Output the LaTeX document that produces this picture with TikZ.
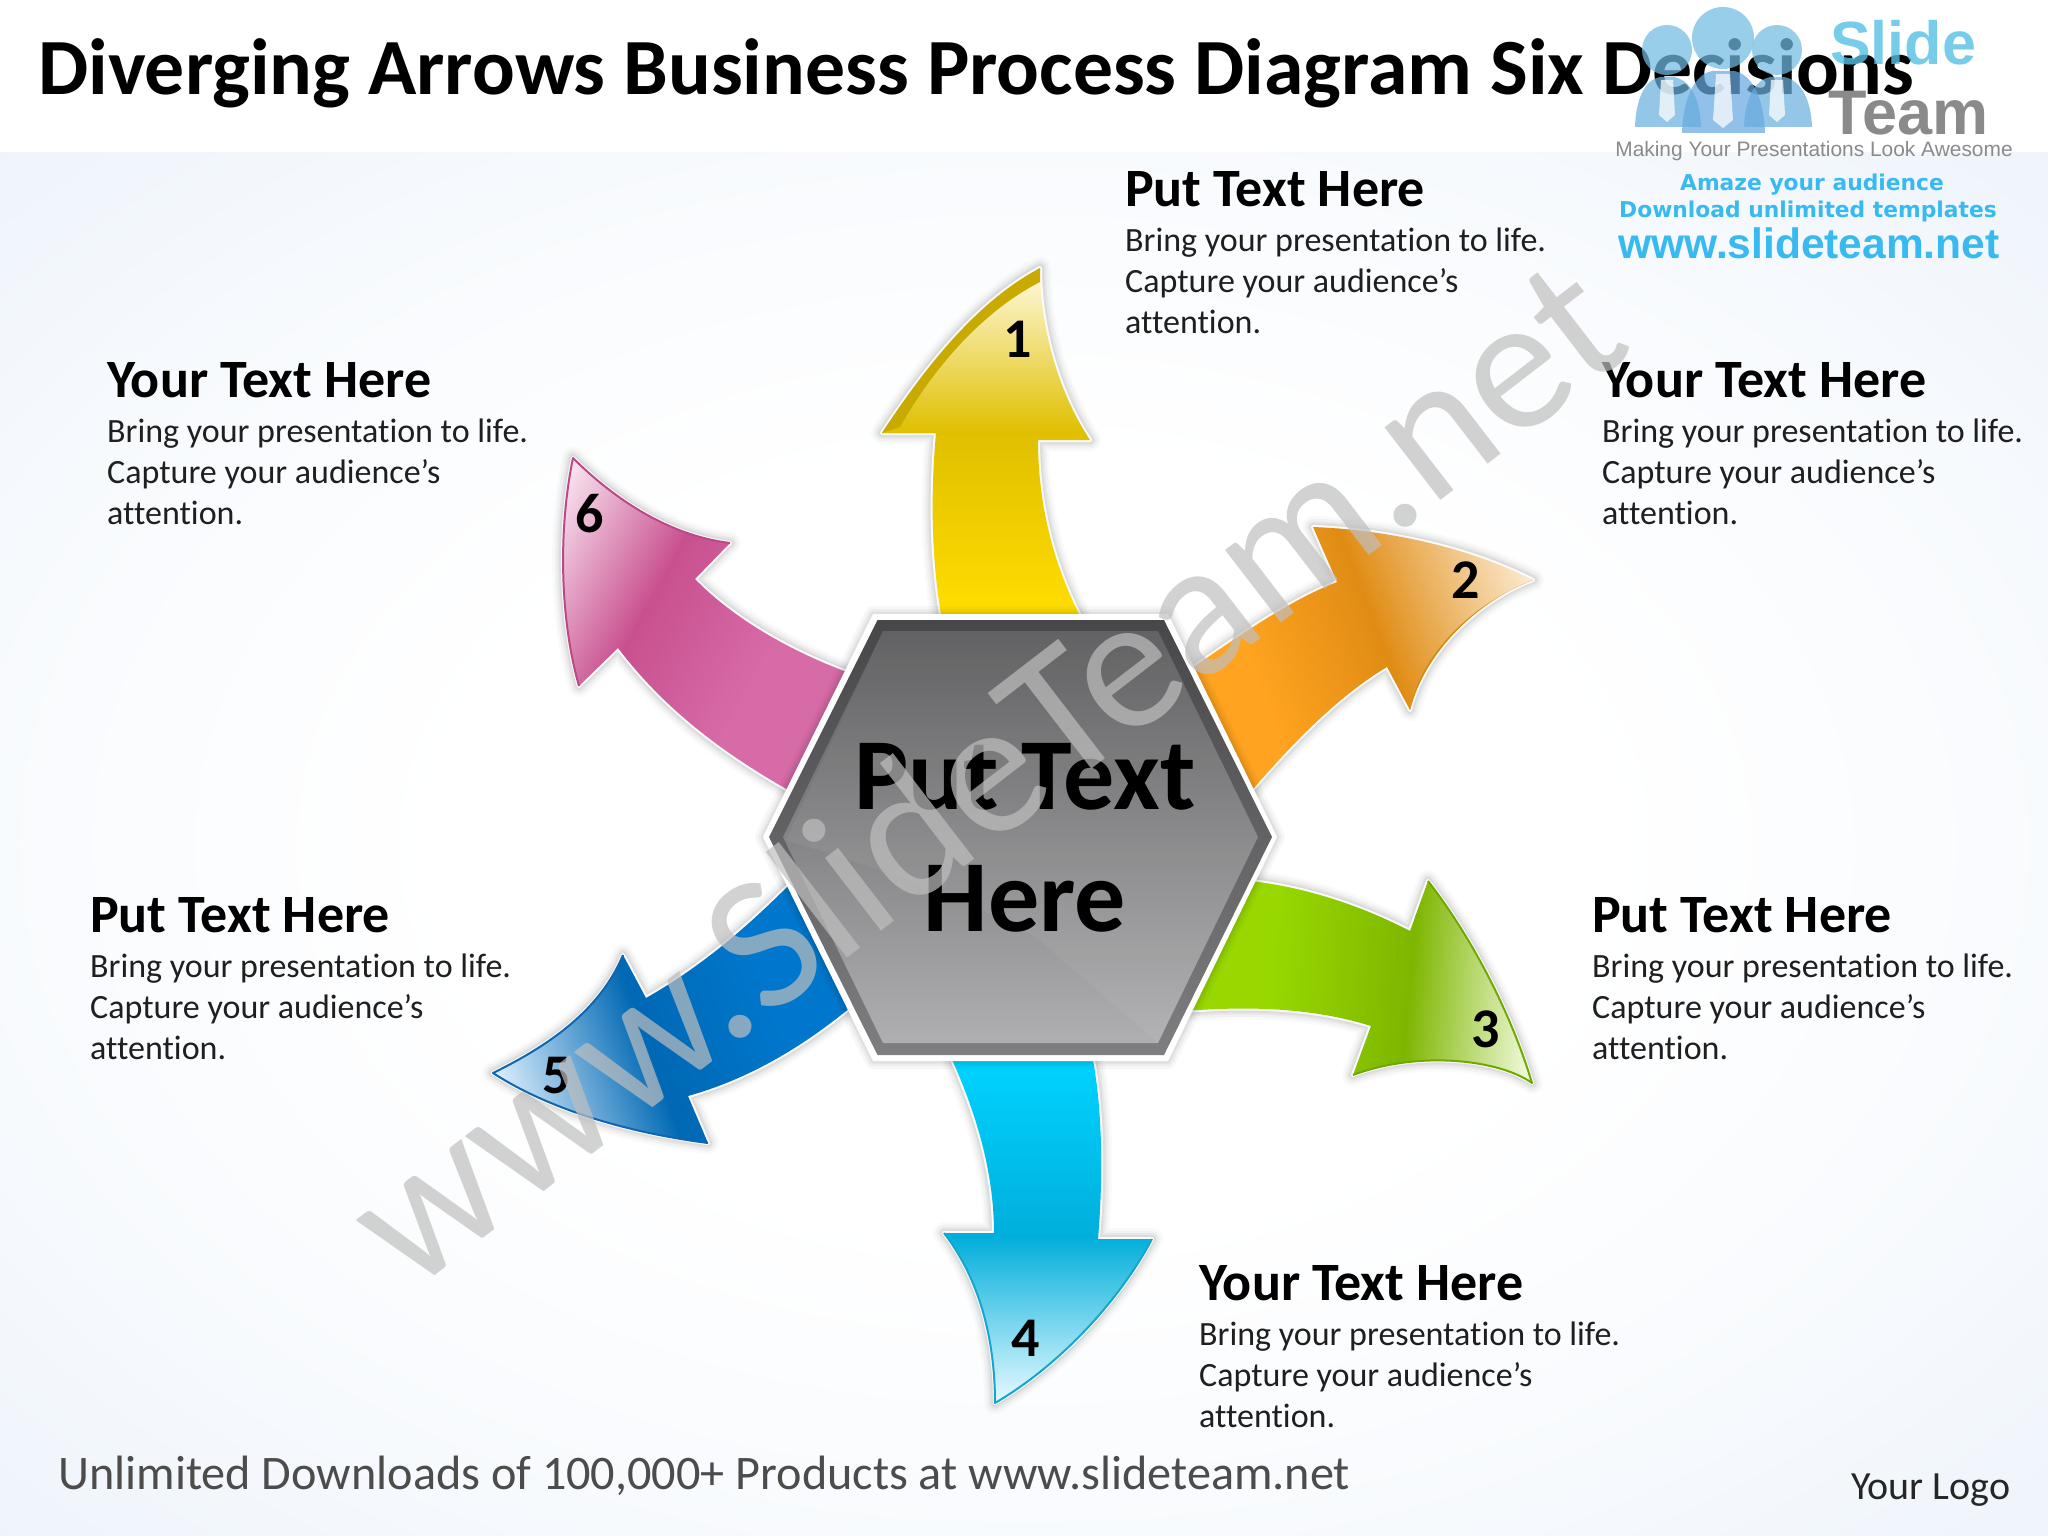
\documentclass[tikz,border=0pt]{standalone}
\usepackage{fontspec}
\setmainfont[Ligatures=NoCommon]{Carlito}
\newfontfamily\logofont{Liberation Sans}
\newfontfamily\logowide{DejaVu Sans}
\definecolor{bgedge}{HTML}{EEF4FB}
\definecolor{logoblue}{HTML}{6CB2DE}
\definecolor{logohead}{HTML}{72BCE2}
\definecolor{logotext}{HTML}{38BAF0}
\definecolor{logogrey}{HTML}{8A8A8A}
\definecolor{watergrey}{HTML}{BFBFBF}
\definecolor{ylight}{HTML}{FFF9DC}\definecolor{ydark}{HTML}{DFBF00}\definecolor{ybase}{HTML}{FFDC00}\definecolor{yedge}{HTML}{C9AA00}
\definecolor{olight}{HTML}{FCEBD2}\definecolor{odark}{HTML}{E08C14}\definecolor{obase}{HTML}{FFA320}\definecolor{oedge}{HTML}{D98A10}
\definecolor{glight}{HTML}{EDF7D4}\definecolor{gdark}{HTML}{7DB600}\definecolor{gbase}{HTML}{98D800}\definecolor{gedge}{HTML}{6FA800}
\definecolor{clight}{HTML}{E4F9FF}\definecolor{cdark}{HTML}{00AEDB}\definecolor{cbase}{HTML}{00D2FF}\definecolor{cedge}{HTML}{14A6CC}
\definecolor{blight}{HTML}{DCEEFC}\definecolor{bdark}{HTML}{0068B4}\definecolor{bbase}{HTML}{0077CC}\definecolor{bedge}{HTML}{0F66AE}
\definecolor{plight}{HTML}{F9E6F1}\definecolor{pdark}{HTML}{C9508F}\definecolor{pbase}{HTML}{D66BA8}\definecolor{pedge}{HTML}{BC4885}
\definecolor{hextop}{HTML}{47474A}\definecolor{hexbot}{HTML}{7E7E80}
\definecolor{facetop}{HTML}{5A5A5C}\definecolor{facemid}{HTML}{8C8C8E}\definecolor{facebot}{HTML}{AFAFB1}
\pgfdeclareradialshading{bgshade}{\pgfpoint{0bp}{0bp}}{color(0bp)=(white); color(14bp)=(white); color(25bp)=(white!60!bgedge); color(36bp)=(bgedge); color(50bp)=(bgedge)}
\tikzset{
  x=1pt,y=-1pt,
  headtext/.style={anchor=base west,inner sep=0pt,font=\fontsize{54}{60}\selectfont\bfseries},
  bodytext/.style={anchor=north west,inner sep=0pt,align=left,text=black!88,font=\fontsize{34}{41}\selectfont},
  numlabel/.style={inner sep=0pt,font=\fontsize{56}{60}\selectfont\bfseries},
  logoshape/.style={opacity=.72},
}
\newcommand\glowpath[1]{%
  \foreach \w/\o in {22/.02,17/.03,12/.04,8/.05}{\draw[line width=\w pt,black,opacity=\o,line join=round] #1;}
  \draw[line width=4pt,white,opacity=.9,line join=round] #1;
}
\newcommand\arrowbody[9]{%
  \glowpath{#1}
  \begin{scope}
    \clip #1;
    \begin{scope}[transform canvas={shift={(#2,#3)},rotate=#4}]
      \fill[#7] (#5-1,-700) rectangle (#5+400,700);
      \shade[left color=#8,right color=#7] (0,-700) rectangle (#5,700);
      \fill[#9] (-#6-500,-700) rectangle (-#6+1,700);
      \shade[left color=#9,right color=#8] (-#6,-700) rectangle (0.5,700);
    \end{scope}
  \end{scope}
}
\newcommand\textblock[4]{%
  \node[headtext] (#1h) at (#2,#3) {#4};
  \node[bodytext] (#1b) at (#2,#3+22) {Bring your presentation to life.\\Capture your audience’s\\attention.};
}
% arrow outlines
\def\pathA{(942,620) .. controls (932,565) and (930,500) .. (936,433) -- (882,433) .. controls (930,360) and (980,300) .. (1040,268) .. controls (1040,330) and (1060,395) .. (1090,440) -- (1038,440) .. controls (1038,510) and (1056,570) .. (1082,620) -- cycle}
\def\pathB{(1185,673) .. controls (1240,635) and (1290,600) .. (1337,582) -- (1313,527) .. controls (1390,530) and (1470,548) .. (1533,580) .. controls (1480,600) and (1425,650) .. (1410,710) -- (1387,667) .. controls (1340,695) and (1295,740) .. (1247,796) -- cycle}
\def\pathC{(1240,880) .. controls (1300,885) and (1360,905) .. (1410,931) -- (1428,881) .. controls (1470,935) and (1510,1010) .. (1532,1083) .. controls (1500,1060) and (1420,1050) .. (1353,1075) -- (1371,1026) .. controls (1320,1010) and (1260,1005) .. (1185,1011) -- cycle}
\def\pathD{(950,1055) .. controls (975,1110) and (994,1170) .. (994,1233) -- (944,1233) .. controls (980,1280) and (995,1340) .. (995,1403) .. controls (1060,1365) and (1120,1300) .. (1152,1239) -- (1098,1239) .. controls (1103,1180) and (1103,1110) .. (1092,1055) -- cycle}
\def\pathE{(797,877) .. controls (740,935) and (695,970) .. (646,998) -- (623,955) .. controls (600,1010) and (550,1045) .. (493,1073) .. controls (550,1110) and (630,1133) .. (708,1143) -- (688,1096) .. controls (745,1080) and (800,1050) .. (857,1002) -- cycle}
\def\pathF{(855,675) .. controls (785,650) and (730,615) .. (695,579) -- (730,543) .. controls (665,535) and (610,495) .. (573,458) .. controls (558,530) and (560,620) .. (579,686) -- (618,648) .. controls (665,710) and (725,755) .. (797,795) -- cycle}
\begin{document}
\begin{tikzpicture}
\useasboundingbox (0,0) rectangle (2048,1536);
% background
\fill[white] (0,0) rectangle (2048,1536);
\shade[shading=bgshade] (0,153) rectangle (2048,1536);
% title
\node[anchor=base west,inner sep=0pt,font=\fontsize{79.7}{90}\selectfont\bfseries] (title) at (38,95) {Diverging Arrows Business Process Diagram Six Decisions};
% logo
\begin{scope}[logoshape]
  \fill[logoblue] (1635,127) .. controls (1636,98) and (1645,80) .. (1660,77) -- (1674,77) .. controls (1690,80) and (1700,98) .. (1701,127) -- cycle;
  \fill[logoblue] (1744,127) .. controls (1745,98) and (1755,80) .. (1770,77) -- (1784,77) .. controls (1800,80) and (1811,98) .. (1812,127) -- cycle;
  \fill[logoblue!95!blue] (1682,133) .. controls (1683,98) and (1695,74) .. (1712,71) -- (1734,71) .. controls (1752,74) and (1764,98) .. (1765,133) -- cycle;
  \fill[white] (1661,80) -- (1673,80) -- (1675,115) -- (1667,122) -- (1659,115) -- cycle;
  \fill[white] (1771,80) -- (1783,80) -- (1785,115) -- (1777,122) -- (1769,115) -- cycle;
  \fill[white] (1716,74) -- (1730,74) -- (1733,120) -- (1723,128) -- (1713,120) -- cycle;
  \fill[logohead] (1667,50) circle (25);
  \fill[logohead] (1777,50) circle (25);
  \fill[logohead] (1723,38) circle (31);
\end{scope}
\node[anchor=base west,inner sep=0pt,opacity=.8,text=logoblue!80!cyan,font=\logofont\bfseries\fontsize{61}{70}\selectfont] (logoslide) at (1830,65) {Slide};
\node[anchor=base west,inner sep=0pt,text=logogrey,font=\logofont\bfseries\fontsize{63}{70}\selectfont] (logoteam) at (1828,135) {Team};
\node[anchor=base,inner sep=0pt,text=logogrey,font=\logofont\fontsize{20.9}{26}\selectfont] (logomake) at (1814,157) {Making Your Presentations Look Awesome};
\node[anchor=base,inner sep=0pt,text=logotext,font=\logowide\bfseries\fontsize{21.8}{24}\selectfont] (logoamaze) at (1812,190) {Amaze your audience};
\node[anchor=base,inner sep=0pt,text=logotext,font=\logowide\bfseries\fontsize{21.8}{24}\selectfont] (logodown) at (1808,217) {Download unlimited templates};
\node[anchor=base,inner sep=0pt,text=logotext,font=\logofont\bfseries\fontsize{42.5}{44}\selectfont] (logoweb) at (1809,258) {www.slideteam.net};
% arrows
\arrowbody{\pathA}{1000}{433}{90}{160}{175}{ylight}{ydark}{ybase}
\fill[yedge] (1040,268) -- (1040,282) .. controls (985,310) and (935,365) .. (900,427) -- (882,433) .. controls (930,360) and (980,300) .. (1040,268) -- cycle;
\arrowbody{\pathB}{1375}{625}{21}{164}{130}{olight}{odark}{obase}
\fill[oedge] (1533,580) .. controls (1480,600) and (1425,650) .. (1410,710) .. controls (1420,655) and (1470,605) .. (1533,580) -- cycle;
\arrowbody{\pathC}{1410}{980}{-5}{122}{140}{glight}{gdark}{gbase}
\draw[line width=2pt,gedge,line join=round] (1428,881) .. controls (1470,935) and (1510,1010) .. (1532,1083) .. controls (1500,1060) and (1420,1050) .. (1353,1075);
\arrowbody{\pathD}{1020}{1236}{-90}{165}{170}{clight}{cdark}{cbase}
\draw[line width=2pt,cedge,line join=round] (1152,1239) .. controls (1120,1300) and (1060,1365) .. (995,1403) .. controls (995,1340) and (980,1280) .. (944,1233);
\arrowbody{\pathE}{650}{1050}{200}{154}{130}{blight}{bdark}{bbase}
\draw[line width=2pt,bedge,line join=round] (623,955) .. controls (600,1010) and (550,1045) .. (493,1073) .. controls (550,1110) and (630,1133) .. (708,1143);
\arrowbody{\pathF}{652}{597}{151}{136}{130}{plight}{pdark}{pbase}
\draw[line width=2pt,pedge,line join=round] (730,543) .. controls (665,535) and (610,495) .. (573,458) .. controls (558,530) and (560,620) .. (579,686);
% hexagon
\def\hexO{(873,614) -- (1168,614) -- (1277,837) -- (1168,1061) -- (873,1061) -- (763,837) -- cycle}
\foreach \w/\o in {16/.03,10/.04,5/.05}{\draw[line width=\w pt,black,opacity=\o,line join=round] \hexO;}
\fill[white] \hexO;
\shade[top color=hextop,bottom color=hexbot] (877.5,620) -- (1164,620) -- (1272,837) -- (1164,1055) -- (877.5,1055) -- (769,837) -- cycle;
\shade[top color=facetop,middle color=facemid,bottom color=facebot] (883,631) -- (1158,631) -- (1258,837) -- (1158,1043) -- (883,1043) -- (783,837) -- cycle;
\fill[white,opacity=.05] (786,840) .. controls (850,860) and (950,890) .. (1036,937) -- (1151,1037) -- (1158,1043) -- (1258,837) -- (1158,631) -- (883,631) -- cycle;
\node[inner sep=0pt,align=center,font=\fontsize{102}{122}\selectfont\bfseries,anchor=base] (center) at (1025,931) {Put Text\\Here};
% numbers
\node[numlabel] (n1) at (1018,339) {1};
\node[numlabel] (n2) at (1466,580) {2};
\node[numlabel] (n3) at (1486,1029) {3};
\node[numlabel] (n4) at (1026,1338) {4};
\node[numlabel] (n5) at (557,1076) {5};
\node[numlabel] (n6) at (590,514) {6};
% text blocks
\textblock{t1}{1125}{206}{Put Text Here}
\textblock{t2}{1602}{397}{Your Text Here}
\textblock{t3}{1592}{932}{Put Text Here}
\textblock{t4}{1199}{1300}{Your Text Here}
\textblock{t5}{90}{932}{Put Text Here}
\textblock{t6}{107}{397}{Your Text Here}
% footer
\node[anchor=base west,inner sep=0pt,text=black!70,font=\fontsize{48.2}{50}\selectfont] (footer) at (58,1489) {Unlimited Downloads of 100,000+ Products at www.slideteam.net};
\node[anchor=base west,inner sep=0pt,text=black!85,font=\fontsize{40}{42}\selectfont] (yourlogo) at (1851,1499) {Your Logo};
% watermark
\node[inner sep=0pt,text=watergrey,opacity=.7,rotate=37.6,font=\fontsize{192}{200}\selectfont] (water) at (983,770) {www.SlideTeam.net};
\end{tikzpicture}
\end{document}
